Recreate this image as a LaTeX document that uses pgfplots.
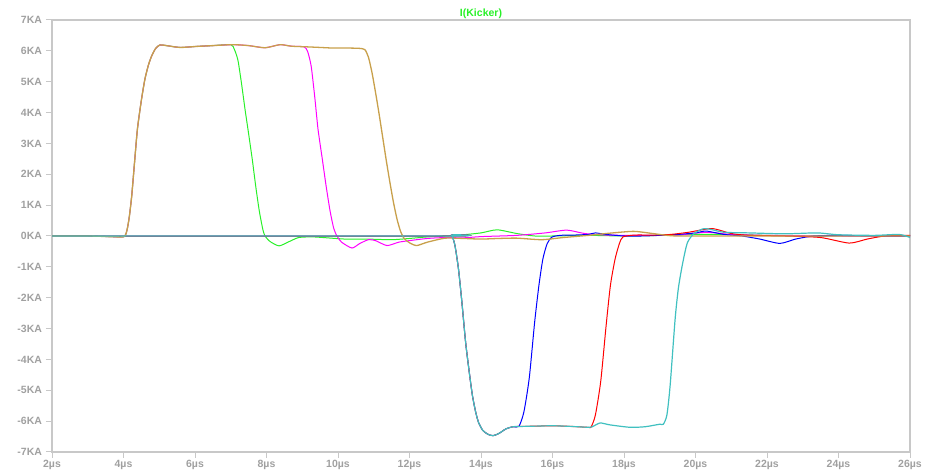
\documentclass[border=0pt]{standalone}
\usepackage{pgfplots}
\pgfplotsset{compat=1.18}
\usepackage{fontspec}
\setmainfont{Liberation Sans}
\definecolor{olv}{RGB}{200,160,75}
\definecolor{grn}{RGB}{40,240,40}
\definecolor{mag}{RGB}{255,0,255}
\definecolor{cyn}{RGB}{64,192,192}
\definecolor{blu}{RGB}{0,0,255}
\definecolor{rd}{RGB}{255,0,0}
\definecolor{axgray}{RGB}{200,200,200}
\definecolor{lblgray}{RGB}{160,160,160}
\begin{document}
\begin{tikzpicture}[x=1pt,y=1pt]
\useasboundingbox (-52,-21) rectangle (880,452);
\begin{axis}[
  at={(0,0)}, anchor=south west,
  scale only axis, width=858pt, height=432pt,
  xmin=2, xmax=26, ymin=-7, ymax=7,
  xtick={2,4,...,26},
  xticklabels={2µs,4µs,6µs,8µs,10µs,12µs,14µs,16µs,18µs,20µs,22µs,24µs,26µs},
  ytick={-7,-6,...,7},
  yticklabels={-7KA,-6KA,-5KA,-4KA,-3KA,-2KA,-1KA,0KA,1KA,2KA,3KA,4KA,5KA,6KA,7KA},
  tick pos=left, tick align=outside,
  major tick length=6pt,
  every tick/.style={axgray, line width=1pt},
  axis line style={axgray, line width=1.3pt},
  tick label style={font=\fontsize{10.5}{12}\selectfont\bfseries, text=lblgray},
  yticklabel style={xshift=-0.5pt},
  xticklabel style={yshift=1pt},
  title={I(Kicker)},
  title style={font=\fontsize{10.5}{12}\selectfont\bfseries, text=grn, at={(0.5,1)}, anchor=base, yshift=-3pt},
  clip=true,
  every axis plot/.style={line width=1pt, no markers, smooth, tension=0.4},
]
% green
\addplot[grn] coordinates {
(2,0) (3,0) (3.9,-0.03) (4.04,0) (4.1,0.2) (4.16,0.6) (4.23,1.3) (4.31,2.4) (4.39,3.47) (4.5,4.4) (4.6,5.09) (4.7,5.55) (4.79,5.84) (4.9,6.08) (5.02,6.19) (5.2,6.17) (5.58,6.11) (6.0,6.14) (6.5,6.17) (7.0,6.2)
(7.1,6.05) (7.2,5.7) (7.3,4.95) (7.4,4.1) (7.48,3.47) (7.6,2.5) (7.7,1.6) (7.8,0.8) (7.9,0.2) (7.96,0.0) (8.1,-0.18) (8.35,-0.32) (8.6,-0.2) (8.9,-0.05) (9.3,-0.03) (9.7,-0.06) (10.2,-0.1) (10.8,-0.1) (11.5,-0.12) (12.0,-0.08) (12.5,-0.03) (13.0,0.0) (13.5,0.04) (14.0,0.1) (14.45,0.2) (15.0,0.08) (15.5,0.0) (16,0.0) (17,0.02) (18,0.0) (19,0.02) (20,0.05) (21,0.05) (22,0.02) (23,0.0) (24,0.0) (26,0.0)
};
% magenta
\addplot[mag] coordinates {
(2,0) (3,0) (3.9,-0.03) (4.04,0) (4.1,0.2) (4.16,0.6) (4.23,1.3) (4.31,2.4) (4.39,3.47) (4.5,4.4) (4.6,5.09) (4.7,5.55) (4.79,5.84) (4.9,6.08) (5.02,6.19) (5.2,6.17) (5.58,6.11) (6.0,6.14) (6.5,6.17) (7.06,6.2) (7.5,6.17) (7.96,6.1) (8.38,6.2) (8.7,6.15) (9.05,6.13)
(9.15,5.98) (9.25,5.5) (9.35,4.5) (9.44,3.47) (9.56,2.5) (9.67,1.6) (9.78,0.8) (9.88,0.25) (9.97,0.0) (10.1,-0.2) (10.39,-0.39) (10.6,-0.25) (10.85,-0.12) (11.05,-0.15) (11.37,-0.31) (11.7,-0.2) (12.0,-0.15) (12.5,-0.08) (13.0,-0.05) (13.5,-0.06) (14.0,-0.02) (15.0,0.02) (15.8,0.1) (16.4,0.19) (16.9,0.08) (17.5,0.03) (18.5,0.02) (19.5,0.03) (20.3,0.12) (21,0.05) (22,0.02) (24,0.0) (26,0.0)
};
% blue
\addplot[blu] coordinates {
(2,0) (13.1,0) (13.18,0.03) (13.27,-0.3) (13.37,-1.07) (13.47,-2.2) (13.57,-3.45) (13.67,-4.4) (13.76,-5.17) (13.85,-5.7) (13.93,-6.04) (14.05,-6.3) (14.2,-6.43) (14.34,-6.47) (14.5,-6.4) (14.7,-6.25) (14.9,-6.18) (15.06,-6.17)
(15.2,-5.7) (15.35,-4.6) (15.5,-2.8) (15.62,-1.6) (15.73,-0.75) (15.85,-0.25) (15.98,-0.04) (16.2,0.02) (16.6,0.03) (17.0,0.05) (17.2,0.1) (17.5,0.05) (18,0.0) (18.5,0.0) (19,0.02) (19.5,0.05) (20,0.1) (20.3,0.16) (20.8,0.05) (21.3,0.0) (21.8,-0.1) (22.36,-0.24) (22.8,-0.1) (23.3,0.0) (24,0.02) (25,0.0) (26,0.0)
};
% red
\addplot[rd] coordinates {
(2,0) (13.1,0) (13.18,0.03) (13.27,-0.3) (13.37,-1.07) (13.47,-2.2) (13.57,-3.45) (13.67,-4.4) (13.76,-5.17) (13.85,-5.7) (13.93,-6.04) (14.05,-6.3) (14.2,-6.43) (14.34,-6.47) (14.5,-6.4) (14.7,-6.25) (14.9,-6.18) (15.2,-6.17) (15.6,-6.16) (16.0,-6.15) (16.5,-6.17) (17.0,-6.2) (17.08,-6.19)
(17.2,-5.8) (17.35,-4.7) (17.5,-2.9) (17.62,-1.6) (17.75,-0.75) (17.87,-0.25) (17.97,-0.03) (18.3,0.03) (18.8,0.03) (19.3,0.05) (19.8,0.12) (20.46,0.24) (21.0,0.08) (21.5,0.02) (22.5,0.0) (23.5,-0.05) (24.3,-0.23) (24.8,-0.1) (25.3,0.0) (26,0.02)
};
% olive
\addplot[olv, line width=1.3pt] coordinates {
(2,0) (3,0) (3.9,-0.03) (4.04,0) (4.1,0.2) (4.16,0.6) (4.23,1.3) (4.31,2.4) (4.39,3.47) (4.5,4.4) (4.6,5.09) (4.7,5.55) (4.79,5.84) (4.9,6.08) (5.02,6.19) (5.2,6.17) (5.58,6.11) (6.0,6.14) (6.5,6.17) (7.06,6.2) (7.5,6.17) (7.96,6.1) (8.38,6.2) (8.7,6.15) (9.12,6.13) (9.5,6.11) (9.87,6.09) (10.3,6.09) (10.6,6.08) (10.75,6.04)
(10.85,5.8) (10.95,5.3) (11.05,4.65) (11.15,3.95) (11.25,3.2) (11.35,2.45) (11.45,1.75) (11.55,1.1) (11.65,0.55) (11.75,0.15) (11.85,-0.08) (12.0,-0.22) (12.2,-0.31) (12.5,-0.2) (13.0,-0.07) (13.5,-0.08) (14,-0.1) (14.5,-0.08) (15,-0.07) (15.7,-0.12) (16.3,-0.05) (17,0.02) (17.5,0.08) (18.26,0.15) (18.8,0.08) (19.3,0.01) (20,0.0) (26,0.0)
};
% cyan
\addplot[cyn, line width=1.2pt] coordinates {
(2,0) (13.1,0) (13.18,0.03) (13.27,-0.3) (13.37,-1.07) (13.47,-2.2) (13.57,-3.45) (13.67,-4.4) (13.76,-5.17) (13.85,-5.7) (13.93,-6.04) (14.05,-6.3) (14.2,-6.43) (14.34,-6.47) (14.5,-6.4) (14.7,-6.25) (14.9,-6.18) (15.2,-6.17) (15.6,-6.16) (16.0,-6.15) (16.5,-6.17) (17.0,-6.2) (17.1,-6.19) (17.33,-6.06) (17.6,-6.12) (18.17,-6.2) (18.6,-6.18) (19.0,-6.1) (19.1,-6.1)
(19.2,-5.8) (19.29,-4.85) (19.43,-2.69) (19.52,-1.7) (19.61,-1.07) (19.7,-0.55) (19.78,-0.2) (19.94,0.06) (20.2,0.23) (20.4,0.22) (20.8,0.12) (21.5,0.1) (22.5,0.07) (23.4,0.1) (24,0.04) (25,0.02) (25.7,0.05) (26,-0.05)
};
\end{axis}
\end{tikzpicture}
\end{document}
